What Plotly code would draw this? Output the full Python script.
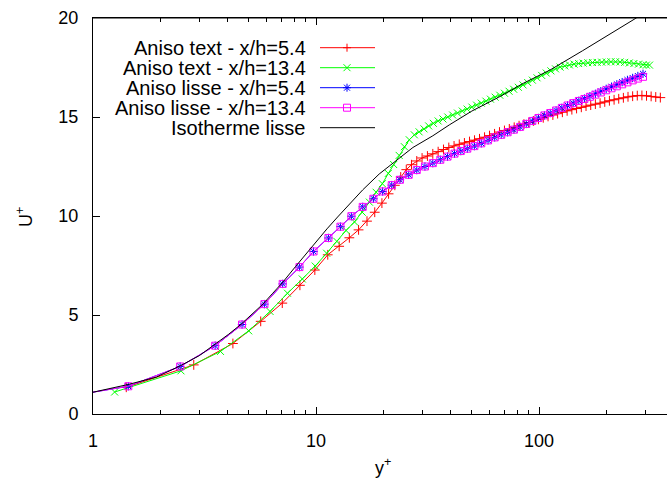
import plotly.graph_objects as go

# ---------------- data ----------------
red_x = [1.41, 2.83, 4.24, 5.65, 7.06, 8.47, 9.88, 11.29, 12.70, 14.11, 15.52, 16.93, 18.34, 19.75,
         21.16, 22.57, 23.98, 25.4, 26.8, 28.3, 29.9, 31.6, 33.4, 35.3, 37.3, 39.4, 41.6, 43.9, 46.3,
         48.8, 51.4, 54.1, 57.0, 60.0, 63.2, 66.5, 70.0, 73.6, 77.4, 81.4, 85.6, 90.0, 94.6, 99.4,
         104.5, 109.8, 115.4, 121.2, 127.3, 133.7, 140.4, 147.4, 154.8, 162.5, 170.6, 179.0, 187.9,
         197.2, 206.9, 217.1, 227.8, 239.0, 250.7, 263.0, 275.9, 289.4, 303.5, 318.3, 333.8, 350.0]
red_y = [1.35, 2.48, 3.56, 4.68, 5.60, 6.50, 7.27, 8.04, 8.47, 8.90, 9.30, 9.74, 10.19, 10.65,
         11.12, 11.55, 11.97, 12.34, 12.59, 12.78, 12.93, 13.03, 13.14, 13.25, 13.36, 13.46, 13.54,
         13.62, 13.69, 13.76, 13.83, 13.90, 13.98, 14.06, 14.15, 14.24, 14.32, 14.40, 14.48, 14.56,
         14.64, 14.72, 14.80, 14.88, 14.96, 15.03, 15.10, 15.17, 15.24, 15.31, 15.37, 15.43, 15.49,
         15.55, 15.60, 15.65, 15.70, 15.76, 15.82, 15.87, 15.92, 15.97, 16.02, 16.05, 16.08, 16.09,
         16.07, 16.04, 16.01, 15.98]

green_x = [1.25, 2.48, 3.73, 4.99, 6.22, 7.45, 8.68, 9.92, 11.16, 12.4, 13.64, 14.88, 16.12, 17.36,
           18.6, 19.84, 21.1, 22.3, 23.6, 24.9, 26.2, 27.6, 29.0, 30.5, 32.0, 33.6, 35.3, 37.1, 39.0,
           41.0, 43.1, 45.3, 47.6, 50.0, 52.5, 55.1, 57.8, 60.6, 63.6, 66.7, 70.0, 73.4, 77.0, 80.8,
           84.8, 89.0, 93.4, 98.0, 102.8, 107.8, 113.1, 118.6, 124.4, 130.5, 136.9, 143.6, 150.6,
           157.9, 165.6, 173.7, 182.2, 191.1, 200.4, 210.2, 220.4, 231.1, 242.3, 254.1, 266.4, 279.3,
           292.8, 303.0, 313.0]
green_y = [1.11, 2.18, 3.16, 4.20, 5.18, 6.10, 6.82, 7.47, 8.12, 8.72, 9.27, 9.70, 10.19, 10.70,
           11.20, 11.63, 12.15, 12.60, 13.06, 13.50, 13.85, 14.10, 14.25, 14.40, 14.55, 14.68, 14.80,
           14.90, 15.00, 15.10, 15.20, 15.30, 15.40, 15.50, 15.60, 15.70, 15.80, 15.90, 16.00, 16.10,
           16.20, 16.30, 16.40, 16.50, 16.62, 16.74, 16.86, 16.98, 17.10, 17.22, 17.33, 17.43, 17.52,
           17.58, 17.63, 17.67, 17.70, 17.72, 17.74, 17.75, 17.76, 17.77, 17.78, 17.79, 17.79, 17.78,
           17.76, 17.73, 17.70, 17.67, 17.64, 17.62, 17.62]

lisse_x = [0.45, 1.44, 2.46, 3.53, 4.66, 5.87, 7.09, 8.43, 9.75, 11.37, 12.87, 14.41, 16.2, 18.09,
           19.9, 21.86, 23.8, 26.05, 28.3, 30.8, 33.4, 36.1, 38.9, 41.8, 44.6, 47.7, 51.3, 55.1, 59.1,
           63.3, 67.7, 72.3, 77.2, 82.3, 87.7, 93.4, 99.4, 105.7, 112.3, 119.3, 126.6, 134.3, 142.4,
           150.9, 159.8, 169.2, 179.0, 189.3, 200.1, 211.5, 223.4, 236.0, 249.2, 263.0, 277.5, 292.7]
blue_y = [0.45, 1.40, 2.40, 3.45, 4.52, 5.55, 6.57, 7.42, 8.21, 8.89, 9.46, 9.99, 10.46, 10.87,
          11.24, 11.56, 11.83, 12.08, 12.32, 12.50, 12.67, 12.84, 13.00, 13.15, 13.28, 13.40, 13.53,
          13.67, 13.82, 13.97, 14.10, 14.23, 14.36, 14.50, 14.65, 14.80, 14.95, 15.08, 15.20, 15.33,
          15.46, 15.58, 15.70, 15.82, 15.93, 16.05, 16.17, 16.30, 16.42, 16.53, 16.65, 16.76, 16.87,
          16.97, 17.07, 17.18]
magenta_y = [0.45, 1.40, 2.40, 3.45, 4.52, 5.55, 6.57, 7.42, 8.21, 8.89, 9.46, 9.99, 10.46, 10.87,
             11.24, 11.56, 11.83, 12.08, 12.32, 12.50, 12.67, 12.84, 13.00, 13.15, 13.28, 13.40, 13.53,
             13.67, 13.82, 13.97, 14.10, 14.23, 14.36, 14.50, 14.65, 14.80, 14.95, 15.08, 15.20, 15.33,
             15.46, 15.58, 15.70, 15.81, 15.91, 16.02, 16.13, 16.24, 16.35, 16.45, 16.55, 16.65, 16.75,
             16.85, 16.94, 17.03]

iso_x = [1.0, 1.45, 1.92, 2.46, 3.0, 3.5, 4.05, 4.62, 5.2, 5.78, 6.4, 7.09, 8.1, 9.0, 10.0, 11.2,
         12.5, 14.0, 16.2, 19.2, 22.9, 27.2, 33.4, 39.6, 50.0, 66.0, 85.0, 112.0, 157.0, 210.0, 264.0,
         300.0]
iso_y = [1.10, 1.50, 1.86, 2.43, 2.95, 3.48, 4.02, 4.54, 5.05, 5.55, 6.10, 6.65, 7.45, 8.08, 8.70,
         9.35, 9.95, 10.55, 11.32, 12.12, 12.81, 13.46, 14.05, 14.60, 15.30, 16.00, 16.70, 17.37,
         18.35, 19.20, 19.90, 20.30]

names = ["Aniso text - x/h=5.4", "Aniso text - x/h=13.4", "Aniso lisse - x/h=5.4",
         "Aniso lisse - x/h=13.4", "Isotherme lisse"]
colors = ["#ff0000", "#00ff00", "#0000ff", "#ff00ff", "#000000"]
symbols = ["cross-thin-open", "x-thin-open", "asterisk-open", "square-open", None]

x_ticks = [1, 10, 100]
x_minor = [2, 3, 4, 5, 6, 7, 8, 9, 20, 30, 40, 50, 60, 70, 80, 90, 200, 300]
y_ticks = [0, 5, 10, 15, 20]

FONT = "Liberation Sans, Arial, sans-serif"

series = [(red_x, red_y), (green_x, green_y), (lisse_x, blue_y), (lisse_x, magenta_y), (iso_x, iso_y)]

fig = go.Figure()
for (xs, ys), nm, col, sym in zip(series, names, colors, symbols):
    if sym is None:
        fig.add_trace(go.Scatter(x=xs, y=ys, name=nm, mode="lines",
                                 line=dict(color=col, width=1), showlegend=False))
    else:
        fig.add_trace(go.Scatter(x=xs, y=ys, name=nm, mode="lines+markers",
                                 line=dict(color=col, width=1),
                                 marker=dict(symbol=sym, size=7, color=col,
                                             line=dict(color=col, width=1)),
                                 showlegend=False))

# ---------------- gnuplot-style key (text right-aligned, sample on the right) ----------------
L, T, PW, PH = 93, 18, 574, 396
def px2paper_x(px):
    return (px - L) / PW
def px2paper_y(py):
    return (T + PH - py) / PH

paths = {
    "cross-thin-open": "M-4,0 L4,0 M0,-4 L0,4",
    "x-thin-open": "M-3.5,-3.5 L3.5,3.5 M-3.5,3.5 L3.5,-3.5",
    "asterisk-open": "M-4,0 L4,0 M0,-4 L0,4 M-3,-3 L3,3 M-3,3 L3,-3",
    "square-open": "M-3.5,-3.5 L3.5,-3.5 L3.5,3.5 L-3.5,3.5 Z",
}
shapes = []
annotations = []
for i, (nm, col, sym) in enumerate(zip(names, colors, symbols)):
    row_y = px2paper_y(47.7 + 20 * i)
    annotations.append(dict(text=nm, x=px2paper_x(308), y=row_y, xref="paper", yref="paper",
                            xanchor="right", yanchor="middle", showarrow=False,
                            font=dict(family=FONT, size=20, color="#000000")))
    shapes.append(dict(type="line", xref="paper", yref="paper",
                       x0=px2paper_x(320), x1=px2paper_x(375), y0=row_y, y1=row_y,
                       line=dict(color=col, width=1)))
    if sym is not None:
        shapes.append(dict(type="path", xref="paper", yref="paper",
                           xsizemode="pixel", ysizemode="pixel",
                           xanchor=px2paper_x(347), yanchor=row_y,
                           path=paths[sym], line=dict(color=col, width=1)))

# top border of the plot frame
shapes.append(dict(type="line", xref="paper", yref="paper", x0=0, x1=1, y0=1, y1=1,
                   line=dict(color="#000000", width=1)))

# axis titles
annotations.append(dict(text="y<sup>+</sup>", x=px2paper_x(383), y=px2paper_y(466),
                        xref="paper", yref="paper", xanchor="center", yanchor="middle",
                        showarrow=False, font=dict(family=FONT, size=18, color="#000000")))
annotations.append(dict(text="U<sup>+</sup>", x=px2paper_x(24), y=px2paper_y(217),
                        xref="paper", yref="paper", xanchor="center", yanchor="middle",
                        textangle=-90, showarrow=False,
                        font=dict(family=FONT, size=18, color="#000000")))

fig.update_layout(
    width=667, height=479,
    margin=dict(l=L, r=0, t=T, b=479 - T - PH, autoexpand=False),
    paper_bgcolor="white", plot_bgcolor="white",
    font=dict(family=FONT, size=18, color="#000000"),
    showlegend=False,
    shapes=shapes,
    annotations=annotations,
)
fig.update_xaxes(
    type="log", range=[0, 574 / 223.0], automargin=False,
    tickmode="array", tickvals=x_ticks, ticktext=[str(v) for v in x_ticks],
    ticks="inside", ticklen=7, tickwidth=1, tickcolor="#000000",
    minor=dict(tickmode="array", tickvals=x_minor, ticks="inside", ticklen=4,
               tickcolor="#000000", tickwidth=1, showgrid=False),
    showline=True, linecolor="#000000", linewidth=1, mirror="ticks",
    showgrid=False, zeroline=False, ticklabelstandoff=10,
)
fig.update_yaxes(
    range=[0, 20], automargin=False,
    tickmode="array", tickvals=y_ticks, ticktext=[str(v) for v in y_ticks],
    ticks="inside", ticklen=7, tickwidth=1, tickcolor="#000000",
    showline=True, linecolor="#000000", linewidth=1, mirror=False,
    showgrid=False, zeroline=False, ticklabelstandoff=10,
)

fig.write_html("out.html", config={"displayModeBar": False},
               post_script="document.body.style.margin='0';document.body.style.padding='0';")
